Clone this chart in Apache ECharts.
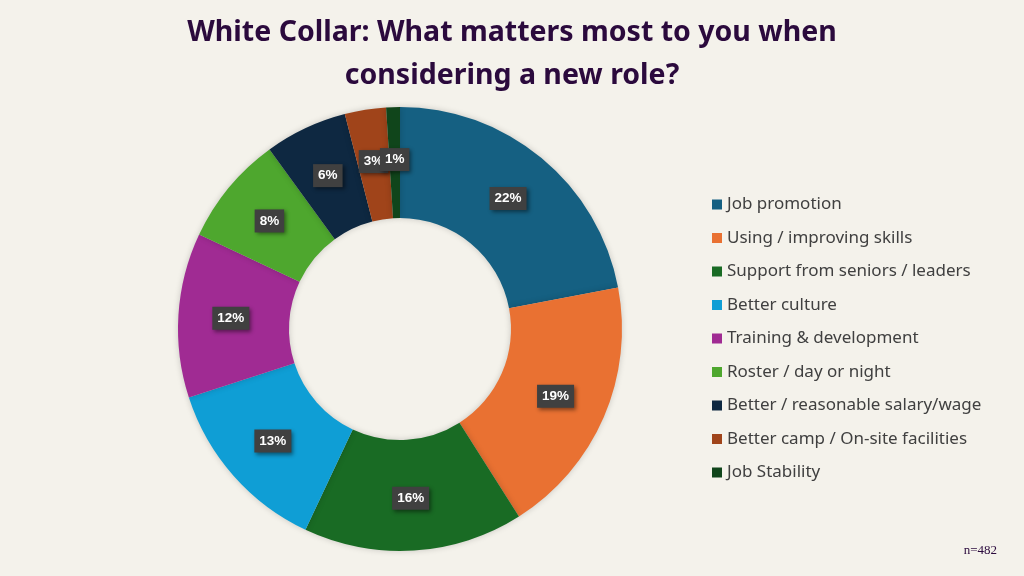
<!DOCTYPE html>
<html>
<head>
<meta charset="utf-8">
<script src="https://cdn.jsdelivr.net/npm/echarts@6/dist/echarts.min.js"></script>
<style>
  html, body { margin: 0; padding: 0; background: #f4f2eb; }
  #chart { width: 1024px; height: 576px; }
</style>
</head>
<body>
<div id="chart"></div>
<script>
const categories = [
  "Job promotion",
  "Using / improving skills",
  "Support from seniors / leaders",
  "Better culture",
  "Training & development",
  "Roster / day or night",
  "Better / reasonable salary/wage",
  "Better camp / On-site facilities",
  "Job Stability"
]
const shares = [22, 19, 16, 13, 12, 8, 6, 3, 1]
const colors = ["#156082", "#e97132", "#196b24", "#0f9ed5", "#a02b93", "#4ea72e", "#0e2841", "#a0441a", "#10451b"]

const chart = echarts.init(document.getElementById("chart"))

chart.setOption({
  backgroundColor: "#f4f2eb",
  color: colors,
  title: [
    {
      text: "White Collar: What matters most to you when\nconsidering a new role?",
      left: "center",
      top: 6,
      textStyle: {
        color: "#2b0a3d",
        fontFamily: "Noto Sans",
        fontWeight: "bold",
        fontSize: 28.5,
        lineHeight: 43
      }
    },
    {
      text: "n=482",
      right: 22,
      top: 539,
      textStyle: {
        color: "#2b0a3d",
        fontFamily: "Liberation Serif",
        fontWeight: "normal",
        fontSize: 13
      }
    }
  ],
  legend: {
    orient: "vertical",
    left: 712,
    top: 196,
    padding: 0,
    itemWidth: 10,
    itemHeight: 10,
    itemGap: 16.5,
    icon: "rect",
    textStyle: { color: "#404040", fontFamily: "Noto Sans", fontSize: 17 },
    data: categories
  },
  series: [
    {
      type: "pie",
      center: [400, 329],
      radius: [111, 222],
      startAngle: 90,
      clockwise: true,
      avoidLabelOverlap: false,
      labelLayout: { hideOverlap: false },
      itemStyle: {
        shadowBlur: 6,
        shadowColor: "rgba(0,0,0,0.18)"
      },
      label: {
        show: true,
        position: "inside",
        formatter: "{c}%",
        color: "#ffffff",
        fontFamily: "Liberation Sans",
        fontWeight: "bold",
        fontSize: 13.5,
        backgroundColor: "#404040",
        padding: [5, 5, 4, 5],
        shadowBlur: 4,
        shadowOffsetX: 2,
        shadowOffsetY: 2,
        shadowColor: "rgba(0,0,0,0.45)"
      },
      labelLine: { show: false },
      emphasis: { disabled: true },
      data: categories.map((name, i) => ({ name, value: shares[i] }))
    }
  ]
})
</script>
</body>
</html>
